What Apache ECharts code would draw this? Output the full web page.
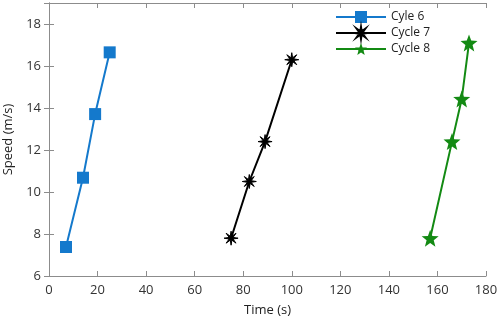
<!DOCTYPE html>
<html>
<head>
<meta charset="utf-8">
<script src="https://cdn.jsdelivr.net/npm/echarts@6/dist/echarts.min.js"></script>
<style>
  html, body { margin: 0; padding: 0; background: #fff; }
  #chart { width: 498px; height: 326px; }
</style>
</head>
<body>
<div id="chart"></div>
<script>
var cycle6Time = [7, 14, 19, 25];
var cycle6Speed = [7.38, 10.68, 13.71, 16.65];
var cycle7Time = [75, 82.5, 89, 100];
var cycle7Speed = [7.8, 10.5, 12.4, 16.3];
var cycle8Time = [157, 166, 170, 173];
var cycle8Speed = [7.8, 12.4, 14.43, 17.1];
var seriesNames = ['Cyle 6', 'Cycle 7', 'Cycle 8'];

// star shaped path: n points, inner radius ratio r
function starPath(n, r) {
    var d = '';
    for (var i = 0; i < n * 2; i++) {
        var rad = (i % 2 === 0) ? 10 : 10 * r;
        var a = Math.PI * i / n - Math.PI / 2;
        d += (i === 0 ? 'M' : 'L') + (rad * Math.cos(a)).toFixed(3) + ',' + (rad * Math.sin(a)).toFixed(3) + ' ';
    }
    return 'path://' + d + 'Z';
}

function pairs(xs, ys) {
    return xs.map(function (x, i) { return [x, ys[i]]; });
}

var axisFont = { fontFamily: 'Open Sans', fontSize: 13, color: '#333' };
var axisLine = { lineStyle: { color: '#8c8c8c', width: 1 } };
var tick = { show: true, inside: true, length: 5, lineStyle: { color: '#8c8c8c' } };

var myChart = echarts.init(document.getElementById('chart'));
var option = {
    animation: false,
    backgroundColor: '#fff',
    grid: { left: 49, right: 12, top: 3, bottom: 50, outerBoundsMode: 'none', containLabel: false },
    legend: {
        orient: 'vertical',
        left: 330,
        top: 6,
        itemWidth: 50,
        itemHeight: 15,
        itemGap: 3,
        textStyle: { fontFamily: 'Open Sans', fontSize: 12, color: '#222' },
        data: seriesNames
    },
    xAxis: [{
        type: 'value', min: 0, max: 180, interval: 20,
        name: 'Time (s)', nameLocation: 'middle', nameGap: 28,
        nameTextStyle: { fontFamily: 'Open Sans', fontSize: 13, color: '#222' },
        axisLine: axisLine,
        axisTick: tick,
        axisLabel: axisFont,
        splitLine: { show: false }
    }, {
        type: 'value', min: 0, max: 180, interval: 20, position: 'top',
        axisLine: axisLine,
        axisTick: tick,
        axisLabel: { show: false },
        splitLine: { show: false }
    }],
    yAxis: [{
        type: 'value', min: 6, max: 19, interval: 2,
        name: 'Speed (m/s)', nameLocation: 'middle', nameGap: 29, nameRotate: 90,
        nameTextStyle: { fontFamily: 'Open Sans', fontSize: 13, color: '#222' },
        axisLine: { show: true, lineStyle: { color: '#8c8c8c', width: 1 } },
        axisTick: tick,
        axisLabel: Object.assign({ showMaxLabel: false }, axisFont),
        splitLine: { show: false }
    }, {
        type: 'value', min: 6, max: 19, interval: 2, position: 'right',
        axisLine: { show: true, lineStyle: { color: '#8c8c8c', width: 1 } },
        axisTick: tick,
        axisLabel: { show: false },
        splitLine: { show: false }
    }],
    series: [{
        name: seriesNames[0], type: 'line',
        data: pairs(cycle6Time, cycle6Speed),
        symbol: 'rect', symbolSize: 12,
        itemStyle: { color: '#1479cc' },
        lineStyle: { color: '#1479cc', width: 2 }
    }, {
        name: seriesNames[1], type: 'line',
        data: pairs(cycle7Time, cycle7Speed),
        symbol: starPath(8, 0.3), symbolSize: 14,
        itemStyle: { color: '#000', borderColor: '#000', borderWidth: 1 },
        lineStyle: { color: '#000', width: 2 }
    }, {
        name: seriesNames[2], type: 'line',
        data: pairs(cycle8Time, cycle8Speed),
        symbol: starPath(5, 0.42), symbolSize: 17,
        itemStyle: { color: '#138a13' },
        lineStyle: { color: '#138a13', width: 2 }
    }]
};
myChart.setOption(option);
</script>
</body>
</html>
